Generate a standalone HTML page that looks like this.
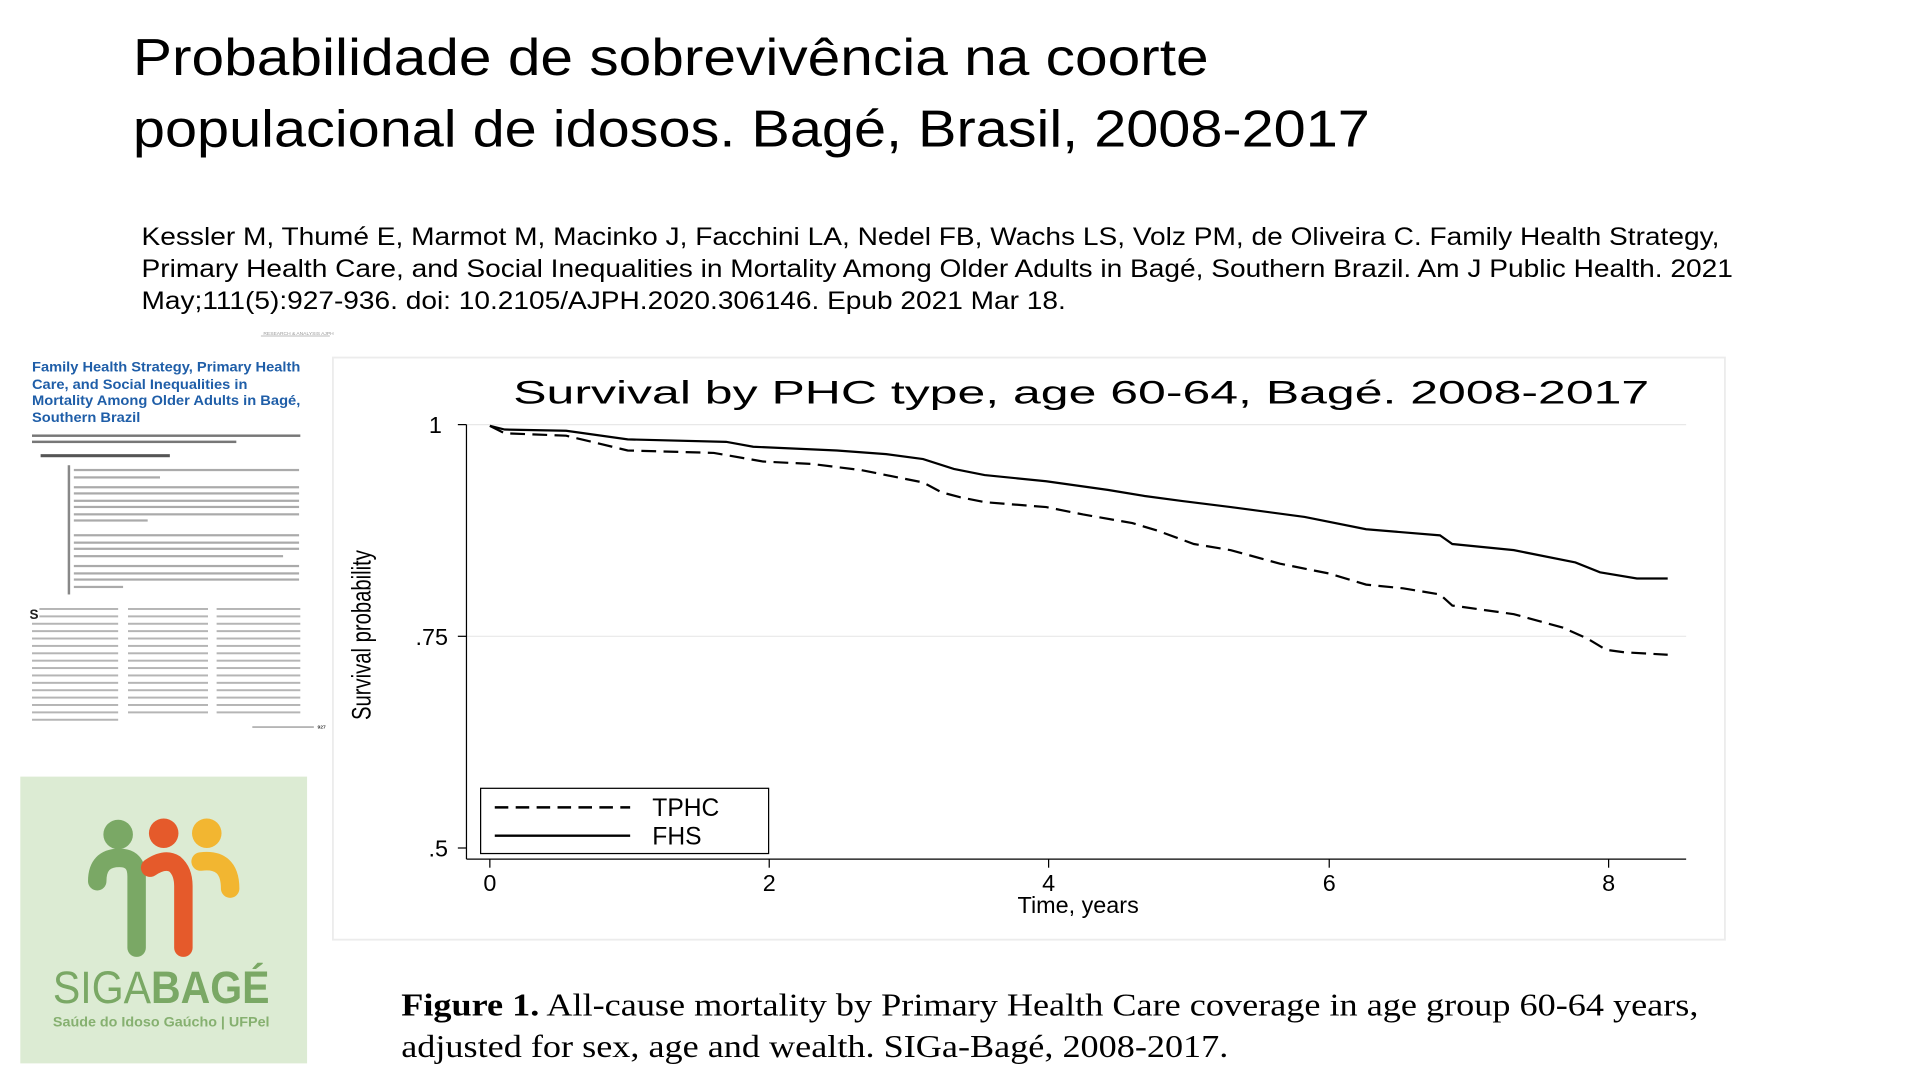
<!DOCTYPE html>
<html><head><meta charset="utf-8"><style>
html,body{margin:0;padding:0;background:#fff;width:1920px;height:1080px;overflow:hidden}
svg{display:block}
</style></head><body>
<svg width="1920" height="1080" viewBox="0 0 1560 877.5" xmlns="http://www.w3.org/2000/svg">
<rect width="1560" height="877.5" fill="#fff"/>
<g font-family="Liberation Sans, sans-serif" fill="#000">
<text x="108" y="61" font-size="42" textLength="874" lengthAdjust="spacingAndGlyphs">Probabilidade de sobrevivência na coorte</text>
<text x="108" y="119" font-size="42" textLength="1005" lengthAdjust="spacingAndGlyphs">populacional de idosos. Bagé, Brasil, 2008-2017</text>
<text x="115" y="199" font-size="20" textLength="1282" lengthAdjust="spacingAndGlyphs">Kessler M, Thumé E, Marmot M, Macinko J, Facchini LA, Nedel FB, Wachs LS, Volz PM, de Oliveira C. Family Health Strategy,</text>
<text x="115" y="225" font-size="20" textLength="1293" lengthAdjust="spacingAndGlyphs">Primary Health Care, and Social Inequalities in Mortality Among Older Adults in Bagé, Southern Brazil. Am J Public Health. 2021</text>
<text x="115" y="251" font-size="20" textLength="751" lengthAdjust="spacingAndGlyphs">May;111(5):927-936. doi: 10.2105/AJPH.2020.306146. Epub 2021 Mar 18.</text>
</g>
<!-- article thumbnail -->
<g font-family="Liberation Sans, sans-serif">
<line x1="212" y1="273" x2="268" y2="273" stroke="#bbb" stroke-width="0.8"/>
<text x="214" y="272" font-size="4" fill="#999">RESEARCH &amp; ANALYSIS AJPH</text>
<g fill="#1f5ea8" font-weight="bold" font-size="11">
<text x="26" y="302" textLength="218" lengthAdjust="spacingAndGlyphs">Family Health Strategy, Primary Health</text>
<text x="26" y="316" textLength="175" lengthAdjust="spacingAndGlyphs">Care, and Social Inequalities in</text>
<text x="26" y="329" textLength="218" lengthAdjust="spacingAndGlyphs">Mortality Among Older Adults in Bagé,</text>
<text x="26" y="343" textLength="88" lengthAdjust="spacingAndGlyphs">Southern Brazil</text>
</g>
<g fill="#777">
<rect x="26" y="353" width="218" height="2"/><rect x="26" y="358" width="166" height="2"/>
<rect x="33" y="369" width="105" height="2.5" fill="#555"/>
</g>
<rect x="55" y="378" width="2" height="105" fill="#888"/>
<g fill="#aaa">
<rect x="60" y="381" width="183" height="1.8"/><rect x="60" y="387" width="70" height="1.8"/>
<rect x="60" y="395" width="183" height="1.8"/><rect x="60" y="400" width="183" height="1.8"/><rect x="60" y="406" width="183" height="1.8"/><rect x="60" y="411" width="183" height="1.8"/><rect x="60" y="417" width="183" height="1.8"/><rect x="60" y="422" width="60" height="1.8"/>
<rect x="60" y="434" width="183" height="1.8"/><rect x="60" y="440" width="183" height="1.8"/><rect x="60" y="445" width="183" height="1.8"/><rect x="60" y="451" width="170" height="1.8"/>
<rect x="60" y="459" width="183" height="1.8"/><rect x="60" y="465" width="183" height="1.8"/><rect x="60" y="470" width="183" height="1.8"/><rect x="60" y="476" width="40" height="1.8"/>
</g>
<text x="24" y="503" font-size="11" font-weight="bold" fill="#222">S</text>
<g fill="#b5b5b5">
<rect x="32" y="494" width="64" height="1.6"/><rect x="32" y="500" width="64" height="1.6"/>
<rect x="26" y="506" width="70" height="1.6"/><rect x="26" y="512" width="70" height="1.6"/><rect x="26" y="518" width="70" height="1.6"/><rect x="26" y="524" width="70" height="1.6"/><rect x="26" y="530" width="70" height="1.6"/><rect x="26" y="536" width="70" height="1.6"/><rect x="26" y="542" width="70" height="1.6"/><rect x="26" y="548" width="70" height="1.6"/><rect x="26" y="554" width="70" height="1.6"/><rect x="26" y="560" width="70" height="1.6"/><rect x="26" y="566" width="70" height="1.6"/><rect x="26" y="572" width="70" height="1.6"/><rect x="26" y="578" width="70" height="1.6"/><rect x="26" y="584" width="70" height="1.6"/>
<rect x="104" y="494" width="65" height="1.6"/><rect x="104" y="500" width="65" height="1.6"/><rect x="104" y="506" width="65" height="1.6"/><rect x="104" y="512" width="65" height="1.6"/><rect x="104" y="518" width="65" height="1.6"/><rect x="104" y="524" width="65" height="1.6"/><rect x="104" y="530" width="65" height="1.6"/><rect x="104" y="536" width="65" height="1.6"/><rect x="104" y="542" width="65" height="1.6"/><rect x="104" y="548" width="65" height="1.6"/><rect x="104" y="554" width="65" height="1.6"/><rect x="104" y="560" width="65" height="1.6"/><rect x="104" y="566" width="65" height="1.6"/><rect x="104" y="572" width="65" height="1.6"/><rect x="104" y="578" width="65" height="1.6"/>
<rect x="176" y="494" width="68" height="1.6"/><rect x="176" y="500" width="68" height="1.6"/><rect x="176" y="506" width="68" height="1.6"/><rect x="176" y="512" width="68" height="1.6"/><rect x="176" y="518" width="68" height="1.6"/><rect x="176" y="524" width="68" height="1.6"/><rect x="176" y="530" width="68" height="1.6"/><rect x="176" y="536" width="68" height="1.6"/><rect x="176" y="542" width="68" height="1.6"/><rect x="176" y="548" width="68" height="1.6"/><rect x="176" y="554" width="68" height="1.6"/><rect x="176" y="560" width="68" height="1.6"/><rect x="176" y="566" width="68" height="1.6"/><rect x="176" y="572" width="68" height="1.6"/><rect x="176" y="578" width="68" height="1.6"/>
<rect x="205" y="590" width="50" height="1.5"/>
</g>
<text x="258" y="592" font-size="4" font-weight="bold" fill="#333">927</text>
</g>
<!-- logo -->
<rect x="16.5" y="631" width="233" height="233" fill="#dcebd3"/>
<g fill="none" stroke-linecap="round" stroke-width="15">
<path d="M79,716 Q79,697 97,697 Q111,697 111,712 L111,770" stroke="#7aa865"/>
<path d="M122,705 Q134,697 142,702 Q149,708 149,720 L149,770" stroke="#e55a2b"/>
<path d="M163,700 Q187,697 187,722" stroke="#f2b631"/>
</g>
<circle cx="96" cy="678" r="12" fill="#7aa865"/>
<circle cx="133" cy="677" r="12" fill="#e55a2b"/>
<circle cx="168" cy="677" r="12" fill="#f2b631"/>
<text x="43" y="815" font-family="Liberation Sans, sans-serif" font-size="37" fill="#7aa865" textLength="176" lengthAdjust="spacingAndGlyphs"><tspan font-weight="normal">SIGA</tspan><tspan font-weight="bold">BAGÉ</tspan></text>
<text x="43" y="834" font-family="Liberation Sans, sans-serif" font-size="11.5" fill="#86b070" font-weight="bold" textLength="176" lengthAdjust="spacingAndGlyphs">Saúde do Idoso Gaúcho | UFPel</text>
<!-- chart frame -->
<rect x="270.5" y="290.5" width="1131" height="473" fill="#fff" stroke="#ececec" stroke-width="1.5"/>
<g font-family="Liberation Sans, sans-serif" fill="#000">
<text x="417" y="328" font-size="26" textLength="923" lengthAdjust="spacingAndGlyphs">Survival by PHC type, age 60-64, Bagé. 2008-2017</text>
<line x1="379" y1="345" x2="1370" y2="345" stroke="#e8e8e8" stroke-width="1"/>
<line x1="379" y1="517" x2="1370" y2="517" stroke="#e8e8e8" stroke-width="1"/>
<line x1="379" y1="345" x2="379" y2="698" stroke="#000" stroke-width="1"/>
<line x1="379" y1="698" x2="1370" y2="698" stroke="#000" stroke-width="1"/>
<g stroke="#000" stroke-width="1">
<line x1="372" y1="345" x2="379" y2="345"/><line x1="372" y1="517" x2="379" y2="517"/><line x1="372" y1="689" x2="379" y2="689"/>
<line x1="398" y1="698" x2="398" y2="705"/><line x1="625" y1="698" x2="625" y2="705"/><line x1="852" y1="698" x2="852" y2="705"/><line x1="1080" y1="698" x2="1080" y2="705"/><line x1="1307" y1="698" x2="1307" y2="705"/>
</g>
<g font-size="19" text-anchor="end">
<text x="359" y="352">1</text><text x="364" y="524">.75</text><text x="364" y="696">.5</text>
</g>
<g font-size="19" text-anchor="middle">
<text x="398" y="724">0</text><text x="625" y="724">2</text><text x="852" y="724">4</text><text x="1080" y="724">6</text><text x="1307" y="724">8</text>
<text x="876" y="742">Time, years</text>
</g>
<text transform="translate(301,516) rotate(-90)" font-size="22" text-anchor="middle" textLength="138" lengthAdjust="spacingAndGlyphs">Survival probability</text>
<rect x="390.5" y="640.5" width="234" height="53" fill="#fff" stroke="#000" stroke-width="1"/>
<line x1="402" y1="656" x2="512" y2="656" stroke="#000" stroke-width="2" stroke-dasharray="11,6"/>
<line x1="402" y1="679" x2="512" y2="679" stroke="#000" stroke-width="2"/>
<text x="530" y="663" font-size="20">TPHC</text>
<text x="530" y="686" font-size="20">FHS</text>
<polyline fill="none" stroke="#000" stroke-width="1.8" points="398,346 410,349 460,350 510,357 590,359 612,363 680,366 720,369 750,373 775,381 800,386 850,391 900,398 930,403 960,407 1000,412 1060,420 1110,430 1170,435 1180,442 1230,447 1280,457 1300,465 1330,470 1355,470"/>
<polyline fill="none" stroke="#000" stroke-width="1.8" stroke-dasharray="12,6" points="398,346 410,352 460,354 510,366 580,368 620,375 660,377 700,382 750,392 765,400 780,404 800,408 850,412 880,418 920,425 940,431 970,442 1000,447 1040,458 1080,466 1110,475 1140,478 1170,483 1180,492 1230,499 1270,510 1290,519 1305,528 1320,530 1355,532"/>
</g>
<!-- caption -->
<g font-family="Liberation Serif, serif" font-size="26" fill="#000">
<text x="326" y="825" textLength="1054" lengthAdjust="spacingAndGlyphs"><tspan font-weight="bold">Figure 1.</tspan> All-cause mortality by Primary Health Care coverage in age group 60-64 years,</text>
<text x="326" y="859" textLength="672" lengthAdjust="spacingAndGlyphs">adjusted for sex, age and wealth. SIGa-Bagé, 2008-2017.</text>
</g>
</svg>
</body></html>
